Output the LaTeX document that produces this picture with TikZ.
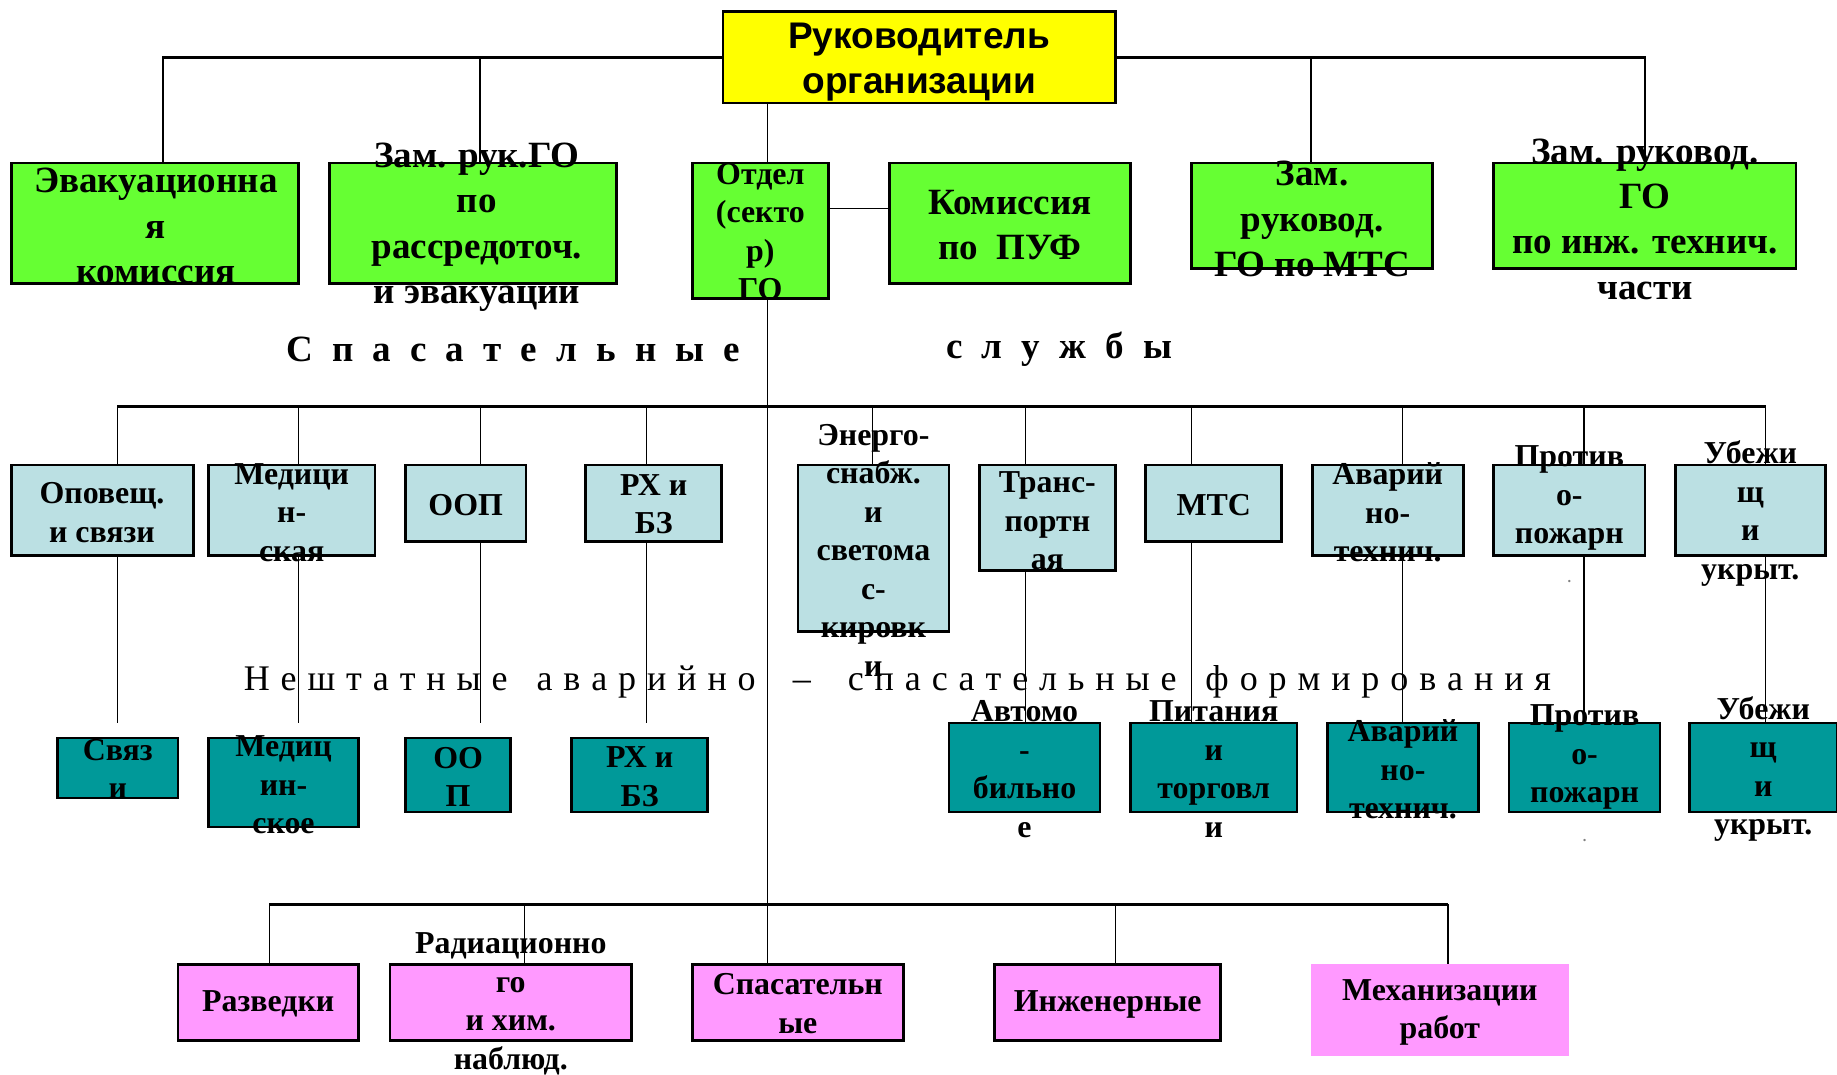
\documentclass[tikz,border=0pt]{standalone}
\usepackage{fontspec}
\setmainfont{Liberation Serif}
\newfontfamily\headfont{Liberation Sans}
\usetikzlibrary{positioning}

\definecolor{headyellow}{HTML}{FFFF00}
\definecolor{deputygreen}{HTML}{66FF33}
\definecolor{servblue}{HTML}{BBE0E3}
\definecolor{formteal}{HTML}{009999}
\definecolor{unitpink}{HTML}{FF99FF}

\tikzset{
  box/.style={draw, line width=1.3pt, inner sep=0pt},
  headbox/.style={box, fill=headyellow},
  gbox/.style={box, fill=deputygreen},
  sbox/.style={box, fill=servblue},
  fbox/.style={box, fill=formteal},
  pbox/.style={box, fill=unitpink},
  big/.style={inner sep=0pt, align=center, font=\fontsize{18}{22}\selectfont\bfseries},
  small/.style={inner sep=0pt, align=center, font=\fontsize{15.5}{18.7}\selectfont\bfseries},
  spaced/.style={inner sep=0pt, font=\fontsize{18}{21.5}\selectfont\bfseries},
  bus/.style={line width=1.1pt},
  link/.style={line width=0.6pt}
}

\begin{document}
\begin{tikzpicture}[x=0.02cm,y=-0.02cm]
\useasboundingbox (0,0) rectangle (1568,917);

% boxes
\node[headbox, minimum width=6.7cm, minimum height=1.56cm] (head) at (784.5,49) {};

\node[gbox, minimum width=4.9cm, minimum height=2.06cm] (evac) at (132.5,190.5) {};
\node[gbox, minimum width=4.9cm, minimum height=2.06cm] (zamevac) at (403.5,190.5) {};
\node[gbox, minimum width=2.32cm, minimum height=2.32cm] (otdel) at (649,197) {};
\node[gbox, minimum width=4.12cm, minimum height=2.06cm] (puf) at (862,190.5) {};
\node[gbox, minimum width=4.12cm, minimum height=1.8cm] (zammts) at (1120,184) {};
\node[gbox, minimum width=5.16cm, minimum height=1.8cm] (zaminzh) at (1404,184) {};

% connectors (under the boxes)
\coordinate (spine) at (655,0);
\coordinate (sbus-l) at (100,347);
\coordinate (sbus-r) at (1507,347);
\coordinate (bbus-l) at (230,772);
\coordinate (bbus-r) at (1236,772);

\draw[bus] (evac.north -| 139,0) |- (head.west);
\draw[bus] (zamevac.north -| 410,0) |- (head.west);
\draw[bus] (zammts.north -| 1119,0) |- (head.east);
\draw[bus] (zaminzh.north) |- (head.east);
\draw[link] (otdel.east |- 0,178) -- (puf.west |- 0,178);
\draw[link] (head.south -| spine) -- (otdel.north -| spine);
\draw[link] (otdel.south -| spine) -- (0,823 -| spine);
\draw[bus] (sbus-l) -- (sbus-r);
\draw[bus] (bbus-l) -- (bbus-r);
\foreach \cx in {100,255,410,552,875,1017,1197,1352,1507}
  \draw[link] (\cx,347) -- (\cx,617);
\draw[link] (745,347) -- (745,397);
\foreach \cx in {230,448,952,1236}
  \draw[link] (\cx,772) -- (\cx,823);

\node[sbox, minimum width=3.1cm, minimum height=1.54cm] (sopov) at (87.5,435.5) {};
\node[sbox, minimum width=2.84cm, minimum height=1.54cm] (smed) at (249,435.5) {};
\node[sbox, minimum width=2.06cm, minimum height=1.3cm] (soop) at (397.5,429.5) {};
\node[sbox, minimum width=2.32cm, minimum height=1.3cm] (srh) at (558,429.5) {};
\node[sbox, minimum width=2.58cm, minimum height=2.84cm] (senerg) at (745.5,468) {};
\node[sbox, minimum width=2.32cm, minimum height=1.8cm] (strans) at (894,442) {};
\node[sbox, minimum width=2.32cm, minimum height=1.3cm] (smts) at (1036,429.5) {};
\node[sbox, minimum width=2.58cm, minimum height=1.54cm] (savar) at (1184.5,435.5) {};
\node[sbox, minimum width=2.58cm, minimum height=1.54cm] (sprot) at (1339.5,435.5) {};
\node[sbox, minimum width=2.56cm, minimum height=1.54cm] (subezh) at (1494,435.5) {};

\node[fbox, minimum width=2.06cm, minimum height=1.02cm] (fsvyaz) at (100.5,655.5) {};
\node[fbox, minimum width=2.56cm, minimum height=1.52cm] (fmed) at (242,668) {};
\node[fbox, minimum width=1.8cm, minimum height=1.26cm] (foop) at (391,661.5) {};
\node[fbox, minimum width=2.32cm, minimum height=1.26cm] (frh) at (546,661.5) {};
\node[fbox, minimum width=2.58cm, minimum height=1.52cm] (fauto) at (874.5,655) {};
\node[fbox, minimum width=2.84cm, minimum height=1.52cm] (fpit) at (1036,655) {};
\node[fbox, minimum width=2.58cm, minimum height=1.52cm] (favar) at (1197.5,655) {};
\node[fbox, minimum width=2.58cm, minimum height=1.52cm] (fprot) at (1352.5,655) {};
\node[fbox, minimum width=2.52cm, minimum height=1.52cm] (fubezh) at (1505,655) {};

\node[pbox, minimum width=3.08cm, minimum height=1.3cm] (razv) at (229,855.5) {};
\node[pbox, minimum width=4.12cm, minimum height=1.3cm] (radhim) at (436,855.5) {};
\node[pbox, minimum width=3.6cm, minimum height=1.3cm] (spas) at (681,855.5) {};
\node[pbox, minimum width=3.86cm, minimum height=1.3cm] (inzh) at (945.5,855.5) {};
\node[pbox, draw=none, minimum width=4.4cm, minimum height=1.56cm] (mekh) at (1229,862) {};

% texts
\node[inner sep=0pt, align=center, font=\headfont\fontsize{18}{21.5}\selectfont\bfseries] (head-t) at (784.5,53) {Руководитель\\организации};

\node[big] (evac-t) at (133,193) {Эвакуационна\\я\\комиссия};
\node[big] (zamevac-t) at (407,194) {Зам. рук.ГО\\по\\рассредоточ.\\и эвакуации};
\node[small] (otdel-t) at (649,197.5) {Отдел\\(секто\\р)\\ГО};
\node[big] (puf-t) at (862,192) {Комиссия\\по\ \ ПУФ};
\node[big] (zammts-t) at (1120,187) {Зам.\\руковод.\\ГО по МТС};
\node[big] (zaminzh-t) at (1404,187) {Зам. руковод.\\ГО\\по инж. технич.\\части};

\node[spaced] (rescue-a) at (438,298) {\spaceskip=9.3pt С п а с а т е л ь н ы е};
\node[spaced] (rescue-b) at (904,298) {\spaceskip=9.3pt с л у ж б ы};

\node[small] (sopov-t) at (87,437.5) {Оповещ.\\и связи};
\node[small] (smed-t) at (249,437.5) {Медици\\н-\\ская};
\node[small] (soop-t) at (397.5,431) {ООП};
\node[small] (srh-t) at (558,430.5) {РХ и\\БЗ};
\node[small] (senerg-t) at (745.5,469.5) {Энерго-\\снабж.\\и\\светома\\с-\\кировк\\и};
\node[small] (strans-t) at (894,444.5) {Транс-\\портн\\ая};
\node[small] (smts-t) at (1036,431) {МТС};
\node[small] (savar-t) at (1184.5,437.5) {Аварий\\но-\\технич.};
\node[small] (sprot-t) at (1339.5,439) {Против\\о-\\пожарн\\{\color{gray}\fontsize{7}{7}\selectfont .}};
\node[small] (subezh-t) at (1494,438.5) {Убежи\\щ\\и\\укрыт.};

\node[inner sep=0pt, font=\fontsize{17.5}{21}\selectfont] (nonstaff) at (766,582)
  {\spaceskip=5.3pt Н е ш т а т н ы е\hspace{14pt}а в а р и й н о\hspace{18pt}–\hspace{18pt}с п а с а т е л ь н ы е\hspace{14pt}ф о р м и р о в а н и я};

\node[small] (fsvyaz-t) at (100.5,656.5) {Связ\\и};
\node[small] (fmed-t) at (242,670) {Медиц\\ин-\\ское};
\node[small] (foop-t) at (391,663) {ОО\\П};
\node[small] (frh-t) at (546,663) {РХ и\\БЗ};
\node[small] (fauto-t) at (874.5,656.5) {Автомо\\-\\бильно\\е};
\node[small] (fpit-t) at (1036,656.5) {Питания\\и\\торговл\\и};
\node[small] (favar-t) at (1197.5,657) {Аварий\\но-\\технич.};
\node[small] (fprot-t) at (1352.5,660) {Против\\о-\\пожарн\\{\color{gray}\fontsize{7}{7}\selectfont .}};
\node[small] (fubezh-t) at (1505,656.5) {Убежи\\щ\\и\\укрыт.};

\node[small] (razv-t) at (229,857) {Разведки};
\node[small] (radhim-t) at (436,857) {Радиационно\\го\\и хим.\\наблюд.};
\node[small] (spas-t) at (681,856.5) {Спасательн\\ые};
\node[small] (inzh-t) at (945.5,857) {Инженерные};
\node[small] (mekh-t) at (1229,864) {Механизации\\работ};
\end{tikzpicture}
\end{document}
